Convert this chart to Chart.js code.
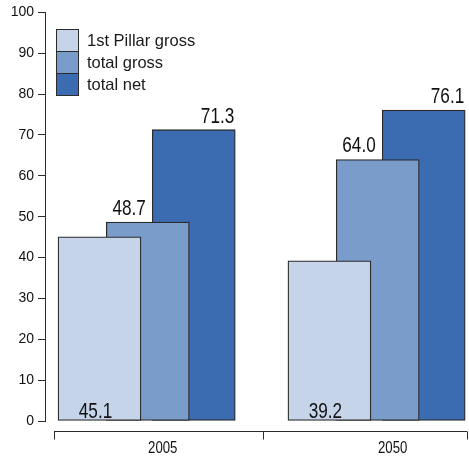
<!DOCTYPE html>
<html>
<head>
<meta charset="utf-8">
<script src="https://cdn.jsdelivr.net/npm/chart.js@4.4.1/dist/chart.umd.min.js"></script>
<style>
  body { margin: 0; background: #fff; }
  #wrap { position: relative; width: 469px; height: 456px; }
  #legend { position: absolute; left: 56px; top: 29px; font: 16.5px "Liberation Sans", Arial, sans-serif; color: #1a1a1a; }
  #legend .row { display: flex; align-items: center; height: 23px; }
  #legend .row + .row { margin-top: -1px; }
  #legend .box { width: 23px; height: 23px; box-sizing: border-box; border: 1px solid #2b2b2b; }
  #legend .txt { margin-left: 8px; }
</style>
</head>
<body>
<div id="wrap">
  <canvas id="chart" width="469" height="456"></canvas>
  <div id="legend"></div>
</div>
<script>
const categories = ['2005', '2050'];
const seriesNames = ['1st Pillar gross', 'total gross', 'total net'];
const pillarGross = [45.1, 39.2];
const totalGross = [48.7, 64.0];
const totalNet = [71.3, 76.1];
const yTicks = [0, 10, 20, 30, 40, 50, 60, 70, 80, 90, 100];

const colors = ['rgb(197, 212, 233)', 'rgb(122, 156, 203)', 'rgb(59, 108, 178)'];
const offsets = [-0.21, 0, 0.2];
const FONT = '"Liberation Sans", Arial, sans-serif';

// legend (html, stacked boxes)
const legendEl = document.getElementById('legend');
seriesNames.forEach((name, i) => {
    const row = document.createElement('div');
    row.className = 'row';
    row.innerHTML = `<div class="box" style="background:${colors[i]}"></div><span class="txt">${name}</span>`;
    legendEl.appendChild(row);
});

function makeDataset(label, values, i) {
    return {
        label: label,
        data: values.map((v, j) => ({ x: j + offsets[i], y: v })),
        backgroundColor: colors[i],
        borderColor: '#2b2b2b',
        borderWidth: 1.3,
        borderSkipped: false,
        barThickness: 83,
        grouped: false
    };
}

// condensed text: no narrow font installed, so squeeze horizontally
function narrowText(ctx, txt, x, y, size, align, sx) {
    ctx.save();
    ctx.font = size + 'px ' + FONT;
    const w = ctx.measureText(txt).width * sx;
    let left = x;
    if (align === 'center') left = x - w / 2;
    else if (align === 'right') left = x - w;
    ctx.translate(left, y);
    ctx.scale(sx, 1);
    ctx.textAlign = 'left';
    ctx.fillText(txt, 0, 0);
    ctx.restore();
}

// value labels, placed differently per series
const valueLabels = {
    id: 'valueLabels',
    afterDatasetsDraw(chart) {
        const ctx = chart.ctx;
        ctx.save();
        ctx.fillStyle = '#111';
        ctx.textBaseline = 'alphabetic';
        chart.data.datasets.forEach((ds, i) => {
            chart.getDatasetMeta(i).data.forEach((bar, j) => {
                const txt = ds.data[j].y.toFixed(1);
                const half = bar.width / 2;
                if (i === 0) {
                    narrowText(ctx, txt, bar.x - 4, bar.base - 3, 22, 'center', 0.78);
                } else if (i === 1) {
                    narrowText(ctx, txt, bar.x - 2, bar.y - 7, 22, 'right', 0.78);
                } else {
                    narrowText(ctx, txt, bar.x + half - 1, bar.y - 7, 22, 'right', 0.78);
                }
            });
        });
        ctx.restore();
    }
};

// detached category axis under the plot
const bottomAxis = {
    id: 'bottomAxis',
    afterDraw(chart) {
        const { ctx, chartArea } = chart;
        const x = chart.scales.x;
        const y = chartArea.bottom + 10.5;
        const edges = [x.getPixelForValue(-0.408), x.getPixelForValue(0.5), chartArea.right - 2];
        ctx.save();
        ctx.strokeStyle = '#2b2b2b';
        ctx.lineWidth = 1;
        ctx.beginPath();
        ctx.moveTo(edges[0], y);
        ctx.lineTo(edges[2], y);
        edges.forEach(e => {
            const px = Math.round(e) + 0.5;
            ctx.moveTo(px, y);
            ctx.lineTo(px, y + 8);
        });
        ctx.stroke();
        ctx.fillStyle = '#111';
        ctx.textBaseline = 'alphabetic';
        categories.forEach((c, j) => {
            narrowText(ctx, c, x.getPixelForValue(j + 0.065), y + 21, 16.5, 'center', 0.8);
        });
        ctx.restore();
    }
};

new Chart(document.getElementById('chart'), {
    type: 'bar',
    data: {
        datasets: [
            makeDataset(seriesNames[0], pillarGross, 0),
            makeDataset(seriesNames[1], totalGross, 1),
            makeDataset(seriesNames[2], totalNet, 2)
        ]
    },
    options: {
        responsive: false,
        animation: false,
        devicePixelRatio: 1,
        layout: { padding: { top: 10, right: 0, bottom: 35, left: 0 } },
        plugins: {
            legend: { display: false },
            tooltip: { enabled: false }
        },
        scales: {
            x: {
                type: 'linear',
                display: false,
                offset: false,
                min: -0.447,
                max: 1.397
            },
            y: {
                min: 0,
                max: 100,
                afterFit: s => { s.width = 45; },
                afterBuildTicks: s => { s.ticks = yTicks.map(v => ({ value: v })); },
                grid: { drawOnChartArea: false, tickLength: 7, color: '#2b2b2b' },
                border: { display: true, color: '#2b2b2b', width: 1 },
                ticks: {
                    padding: 4,
                    color: '#111',
                    font: { family: FONT, size: 14 }
                }
            }
        }
    },
    plugins: [valueLabels, bottomAxis]
});
</script>
</body>
</html>
